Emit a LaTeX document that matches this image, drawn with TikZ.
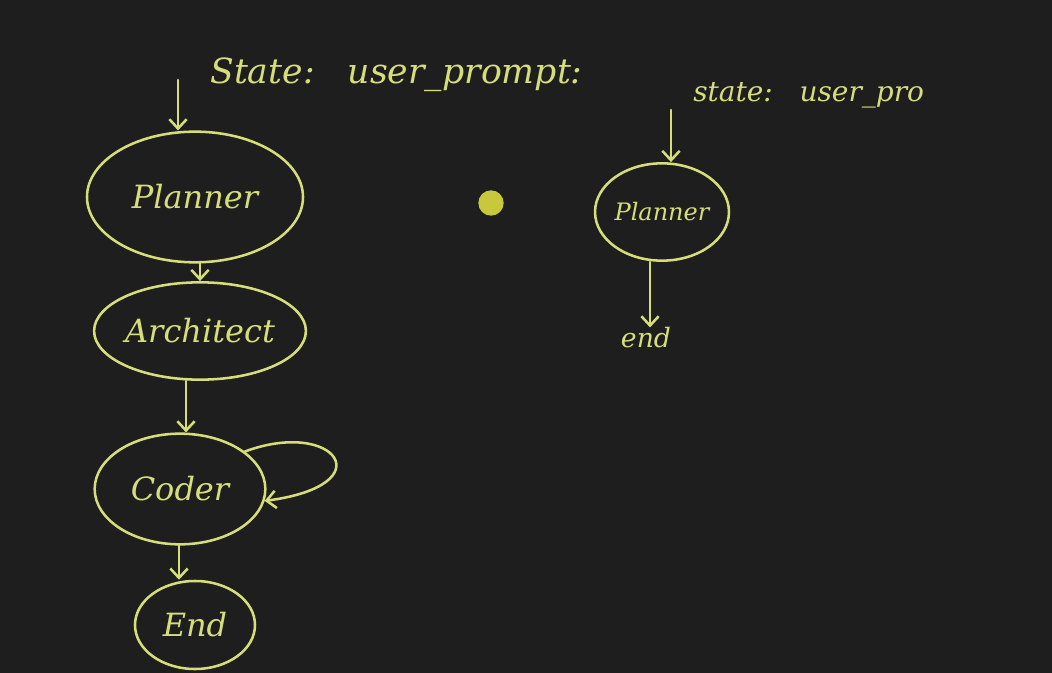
\documentclass[tikz,border=0pt]{standalone}
\usepackage{fontspec}
\setmainfont{DejaVu Serif}
\usetikzlibrary{shapes.geometric,arrows.meta}
\definecolor{board}{RGB}{30,30,30}
\definecolor{chalk}{RGB}{214,222,122}
\definecolor{dot}{RGB}{200,200,60}
\begin{document}
\begin{tikzpicture}[x=0.75pt,y=-0.75pt,
  stroke/.style={draw=chalk,line width=1.9pt,line cap=round,line join=round},
  state/.style={stroke,ellipse,inner sep=0pt,text=chalk,font=\itshape\fontsize{24}{28}\selectfont},
  arr/.style={stroke,-{Straight Barb[length=7pt,width=13pt,line width=1.9pt]}},
  lbl/.style={text=chalk,inner sep=0pt,font=\itshape\fontsize{26}{30}\selectfont}]
\fill[board] (0,0) rectangle (1052,673);
\useasboundingbox (0,0) rectangle (1052,673);
% left graph
\node[state,minimum width=162pt,minimum height=98pt] (planner) at (195,197) {Planner};
\node[state,minimum width=158pt,minimum height=73pt] (architect) at (200,331) {Architect};
\node[state,minimum width=128pt,minimum height=83pt] (coder) at (180,489) {Coder};
\node[state,minimum width=90pt,minimum height=66pt] (end) at (195,625) {End};
\node[lbl,anchor=west] (statel) at (210,75) {State:\ \ \ user\_prompt:};
\coordinate (startl) at (178,80);
\draw[arr] (startl) -- (planner.north -| startl);
\draw[arr] (planner.south -| 200,0) -- (architect.north -| 200,0);
\draw[arr] (architect.south -| 186,0) -- (coder.north -| 186,0);
\draw[arr] (coder.south -| 179,0) -- (end.north -| 179,0);
\draw[arr] (coder.30) .. controls (335,418) and (385,485) .. (coder.-8);
% right graph
\node[state,minimum width=89pt,minimum height=73pt,font=\itshape\fontsize{18}{22}\selectfont] (planner2) at (662,212) {Planner};
\node[lbl,anchor=west,font=\itshape\fontsize{21}{24}\selectfont] (stater) at (693,95) {state:\ \ \ user\_pro};
\node[lbl,font=\itshape\fontsize{20}{24}\selectfont] (end2) at (646,338) {end};
\coordinate (startr) at (671,110);
\draw[arr] (startr) -- (planner2.north -| startr);
\draw[arr] (planner2.south -| 650,0) -- (end2.north -| 650,0);
% pointer dot
\fill[dot] (491,203) circle (9.5pt);
\end{tikzpicture}
\end{document}
